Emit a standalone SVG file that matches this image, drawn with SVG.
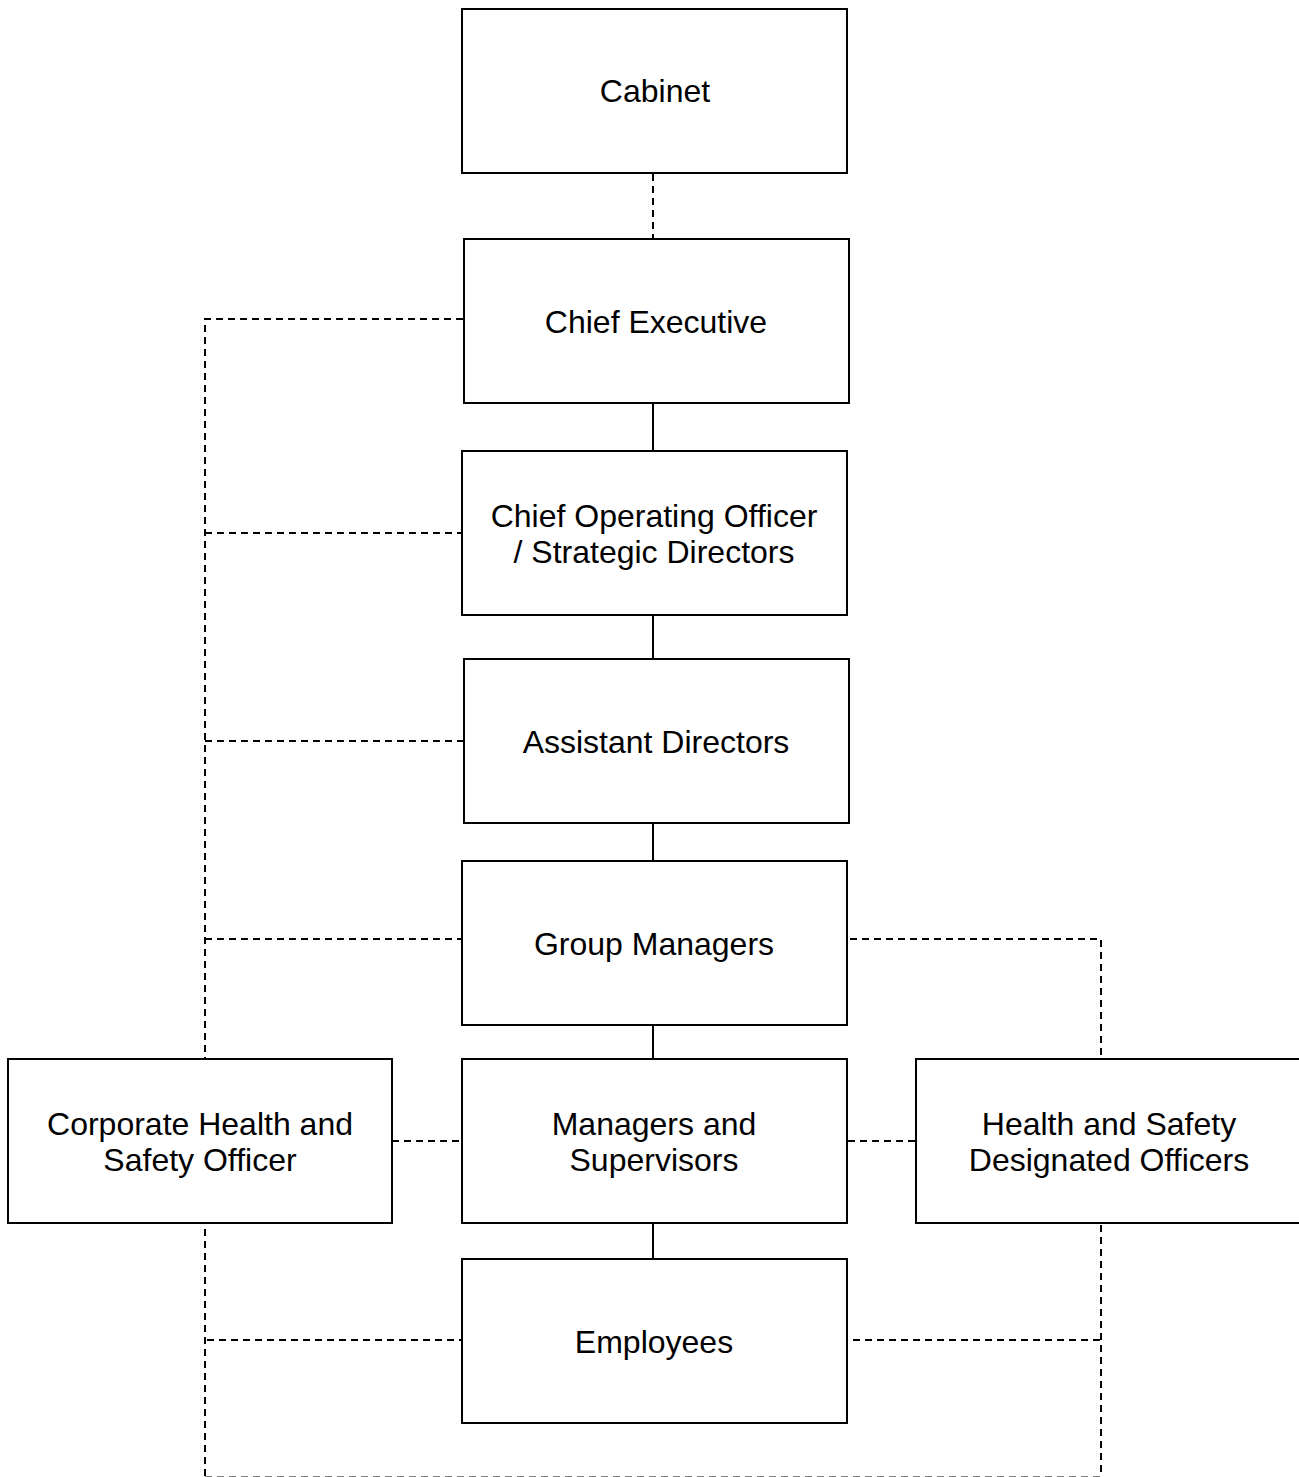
<svg xmlns="http://www.w3.org/2000/svg" width="1299" height="1477" viewBox="0 0 1299 1477">
<style>
.box{fill:#fff;stroke:#000;stroke-width:2}
.t{font-family:"Liberation Sans",Arial,sans-serif;font-size:32px;fill:#000;text-anchor:middle}
.solid{stroke:#000;stroke-width:2;fill:none}
.dash{stroke:#000;stroke-width:2;fill:none;stroke-dasharray:7,5}
</style>
<rect width="1299" height="1477" fill="#fff"/>
<g id="connectors">
<line class="dash" x1="653" y1="174" x2="653" y2="239"/>
<line class="solid" x1="653" y1="403" x2="653" y2="451"/>
<line class="solid" x1="653" y1="615" x2="653" y2="659"/>
<line class="solid" x1="653" y1="823" x2="653" y2="861"/>
<line class="solid" x1="653" y1="1025" x2="653" y2="1059"/>
<line class="solid" x1="653" y1="1223" x2="653" y2="1259"/>
<polyline class="dash" points="463,319 205,319 205,1058"/>
<line class="dash" x1="205" y1="533" x2="462" y2="533"/>
<line class="dash" x1="205" y1="741" x2="464" y2="741"/>
<line class="dash" x1="205" y1="939" x2="462" y2="939"/>
<line class="dash" x1="392" y1="1141" x2="462" y2="1141"/>
<line class="dash" x1="848" y1="1141" x2="916" y2="1141"/>
<polyline class="dash" points="850,939 1101,939 1101,1059"/>
<line class="dash" x1="205" y1="1229" x2="205" y2="1477"/>
<line class="dash" x1="207" y1="1340" x2="462" y2="1340"/>
<line class="dash" x1="1101" y1="1225" x2="1101" y2="1477"/>
<line class="dash" x1="853" y1="1340" x2="1101" y2="1340"/>
<line class="dash" x1="205" y1="1477.5" x2="1101" y2="1477.5" stroke="#888"/>
</g>
<g id="cabinet"><rect class="box" x="462" y="9" width="385" height="164"/><text class="t" x="655" y="102">Cabinet</text></g>
<g id="chief-executive"><rect class="box" x="464" y="239" width="385" height="164"/><text class="t" x="656" y="333">Chief Executive</text></g>
<g id="coo"><rect class="box" x="462" y="451" width="385" height="164"/><text class="t" x="654" y="527">Chief Operating Officer</text><text class="t" x="654" y="563">/ Strategic Directors</text></g>
<g id="assistant-directors"><rect class="box" x="464" y="659" width="385" height="164"/><text class="t" x="656" y="753">Assistant Directors</text></g>
<g id="group-managers"><rect class="box" x="462" y="861" width="385" height="164"/><text class="t" x="654" y="955">Group Managers</text></g>
<g id="managers-supervisors"><rect class="box" x="462" y="1059" width="385" height="164"/><text class="t" x="654" y="1135">Managers and</text><text class="t" x="654" y="1171">Supervisors</text></g>
<g id="corporate-hs"><rect class="box" x="8" y="1059" width="384" height="164"/><text class="t" x="200" y="1135">Corporate Health and</text><text class="t" x="200" y="1171">Safety Officer</text></g>
<g id="hs-designated"><rect class="box" x="916" y="1059" width="390" height="164"/><text class="t" x="1109" y="1135">Health and Safety</text><text class="t" x="1109" y="1171">Designated Officers</text></g>
<g id="employees"><rect class="box" x="462" y="1259" width="385" height="164"/><text class="t" x="654" y="1353">Employees</text></g>
</svg>
